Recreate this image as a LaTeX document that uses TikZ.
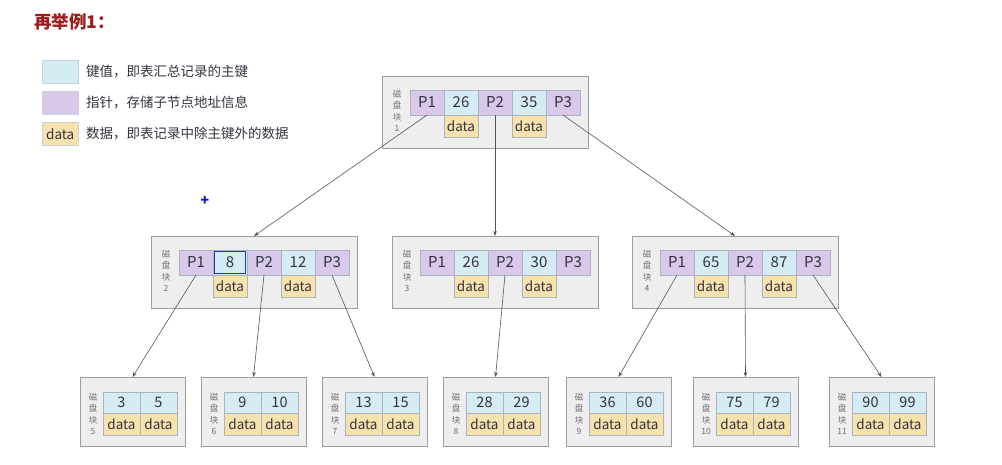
\documentclass[tikz,border=0pt]{standalone}
\usepackage{fontspec}
\setmainfont{Noto Sans CJK SC}
\usetikzlibrary{arrows.meta}
\definecolor{keyc}{HTML}{D6ECF5}
\definecolor{ptrc}{HTML}{D8C8EA}
\definecolor{datac}{HTML}{F7E1AC}
\definecolor{blockfill}{HTML}{EEEEEE}
\definecolor{blockline}{HTML}{9E9E9E}
\definecolor{cellline}{HTML}{A9B3C2}
\definecolor{linkc}{HTML}{555555}
\definecolor{txt}{HTML}{333340}
\definecolor{titlec}{HTML}{9B1C1C}
\definecolor{sel}{HTML}{1F35C8}
\definecolor{labc}{HTML}{707070}
\tikzset{
  x=1pt, y=-1pt,
  blockbox/.style={draw=blockline, fill=blockfill, line width=0.9pt, anchor=north west, inner sep=0pt, outer sep=0pt},
  cellbase/.style={draw=cellline, line width=0.5pt, anchor=north west, inner sep=0pt, outer sep=0pt, text=txt},
  ptrcell/.style={cellbase, fill=ptrc, minimum width=34pt, minimum height=25pt, font=\fontsize{15}{15}\selectfont},
  keycell/.style={cellbase, fill=keyc, minimum width=34pt, minimum height=25pt, font=\fontsize{15}{15}\selectfont},
  datacell/.style={cellbase, fill=datac, minimum width=34pt, minimum height=22pt, font=\fontsize{13.5}{13.5}\selectfont},
  leafkey/.style={cellbase, fill=keyc, minimum width=37pt, minimum height=21pt, font=\fontsize{14.5}{14.5}\selectfont},
  leafdata/.style={cellbase, fill=datac, minimum width=37pt, minimum height=22pt, font=\fontsize{13.5}{13.5}\selectfont},
  disklabel/.style={font=\fontsize{8.5}{11.5}\selectfont, text=labc, align=center, inner sep=0pt},
  link/.style={draw=linkc, line width=0.6pt, -{Stealth[length=5pt,width=3.6pt]}},
  legendbox/.style={draw=cellline!60, line width=0.5pt, anchor=north west, minimum width=36pt, minimum height=23pt, inner sep=0pt, font=\fontsize{13.5}{13.5}\selectfont, text=txt},
  legendtext/.style={anchor=west, inner sep=0pt, font=\fontsize{13.5}{14}\selectfont, text=txt},
}
% #1 name, #2 x, #3 y, #4 label, #5 key1, #6 key2
\newcommand\mkinner[6]{%
  \node[blockbox, minimum width=206pt, minimum height=72pt] (#1) at (#2,#3) {};
  \node[disklabel] (#1lab) at (\the\numexpr#2+15\relax,\the\numexpr#3+35\relax) {磁\\盘\\块\\#4};
  \node[ptrcell] (#1p1) at (\the\numexpr#2+28\relax,\the\numexpr#3+14\relax) {P1};
  \node[keycell] (#1k1) at (\the\numexpr#2+62\relax,\the\numexpr#3+14\relax) {#5};
  \node[ptrcell] (#1p2) at (\the\numexpr#2+96\relax,\the\numexpr#3+14\relax) {P2};
  \node[keycell] (#1k2) at (\the\numexpr#2+130\relax,\the\numexpr#3+14\relax) {#6};
  \node[ptrcell] (#1p3) at (\the\numexpr#2+164\relax,\the\numexpr#3+14\relax) {P3};
  \node[datacell] (#1d1) at (\the\numexpr#2+62\relax,\the\numexpr#3+39\relax) {data};
  \node[datacell] (#1d2) at (\the\numexpr#2+130\relax,\the\numexpr#3+39\relax) {data};
}
% #1 name, #2 x, #3 y, #4 label, #5 key1, #6 key2
\newcommand\mkleaf[6]{%
  \node[blockbox, minimum width=105pt, minimum height=69pt] (#1) at (#2,#3) {};
  \node[disklabel] (#1lab) at (\the\numexpr#2+13\relax,\the\numexpr#3+37\relax) {磁\\盘\\块\\#4};
  \node[leafkey] (#1k1) at (\the\numexpr#2+23\relax,\the\numexpr#3+15\relax) {#5};
  \node[leafkey] (#1k2) at (\the\numexpr#2+60\relax,\the\numexpr#3+15\relax) {#6};
  \node[leafdata] (#1d1) at (\the\numexpr#2+23\relax,\the\numexpr#3+36\relax) {data};
  \node[leafdata] (#1d2) at (\the\numexpr#2+60\relax,\the\numexpr#3+36\relax) {data};
}
\begin{document}
\begin{tikzpicture}
\useasboundingbox[fill=white] (0,0) rectangle (1002,465);
% title
\node[anchor=north west, inner sep=0pt, text=titlec, font=\bfseries\fontsize{17.5}{18}\selectfont] (title) at (34,13) {再举例1：};
% legend
\node[legendbox, fill=keyc] (lg1) at (42,60) {};
\node[legendtext] (lt1) at (86,71.5) {键值，即表汇总记录的主键};
\node[legendbox, fill=ptrc] (lg2) at (42,91) {};
\node[legendtext] (lt2) at (86,102.5) {指针，存储子节点地址信息};
\node[legendbox, fill=datac] (lg3) at (42,122) {data};
\node[legendtext] (lt3) at (86,133.5) {数据，即表记录中除主键外的数据};
% cursor mark
\node[text=blue, inner sep=0pt, font=\bfseries\fontsize{14}{14}\selectfont] (cursor) at (205,201) {+};
% blocks
\mkinner{b1}{382}{76}{1}{26}{35}
\mkinner{b2}{151}{236}{2}{8}{12}
\mkinner{b3}{392}{236}{3}{26}{30}
\mkinner{b4}{632}{236}{4}{65}{87}
\node[draw=sel, line width=1.3pt, minimum width=31pt, minimum height=22pt, inner sep=0pt] (b2sel) at (b2k1.center) {};
\mkleaf{b5}{80}{377}{5}{3}{5}
\mkleaf{b6}{201}{377}{6}{9}{10}
\mkleaf{b7}{322}{377}{7}{13}{15}
\mkleaf{b8}{443}{377}{8}{28}{29}
\mkleaf{b9}{566}{377}{9}{36}{60}
\mkleaf{b10}{693}{377}{10}{75}{79}
\mkleaf{b11}{829}{377}{11}{90}{99}
% links
\draw[link] (b1p1.south) -- (b2.north);
\draw[link] (b1p2.south) -- (b3.north);
\draw[link] (b1p3.south) -- (b4.north);
\draw[link] (b2p1.south) -- (b5.north);
\draw[link] (b2p2.south) -- (b6.north);
\draw[link] (b2p3.south) -- (b7.north);
\draw[link] (b3p2.south) -- (b8.north);
\draw[link] (b4p1.south) -- (b9.north);
\draw[link] (b4p2.south) -- (b10.north);
\draw[link] (b4p3.south) -- (b11.north);
\end{tikzpicture}
\end{document}
